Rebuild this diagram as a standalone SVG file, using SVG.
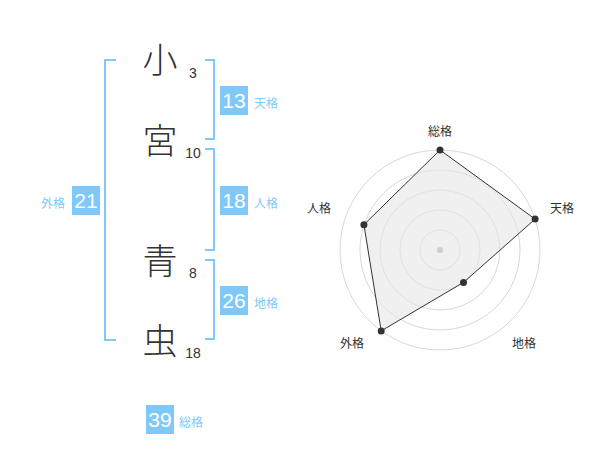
<svg xmlns="http://www.w3.org/2000/svg" width="600" height="470" viewBox="0 0 600 470">
<style>
.kanji{font-family:"Noto Sans CJK JP","Noto Sans CJK SC",sans-serif;font-size:35px;font-weight:300;fill:#333;text-anchor:middle}
.strokes{font-family:"Liberation Sans",Arial,sans-serif;font-size:14px;fill:#333;text-anchor:middle}
.br{fill:none;stroke:#80C8F8;stroke-width:2}
.box{fill:#80C8F8}
.num{font-family:"Liberation Sans",Arial,sans-serif;font-size:21px;fill:#fff;text-anchor:middle}
.lbl{font-family:"Noto Sans CJK JP","Noto Sans CJK SC",sans-serif;font-size:12px;fill:#80C8F8}
.ring{fill:none;stroke:#d8d8d8;stroke-width:1}
.axis{font-family:"Noto Sans CJK JP","Noto Sans CJK SC",sans-serif;font-size:12px;fill:#333;text-anchor:middle}
</style>
<rect width="600" height="470" fill="#fff"/>
<g id="name">
<g id="char1"><text class="kanji" x="160" y="73">小</text><text class="strokes" x="193" y="78">3</text></g>
<g id="char2"><text class="kanji" x="160" y="154">宮</text><text class="strokes" x="193" y="158">10</text></g>
<g id="char3"><text class="kanji" x="160" y="274">青</text><text class="strokes" x="193" y="278">8</text></g>
<g id="char4"><text class="kanji" x="160" y="354">虫</text><text class="strokes" x="193" y="358">18</text></g>
</g>
<g id="brackets">
<path class="br" d="M116,60 H105 V340 H116"/>
<path class="br" d="M205,60 H214 V139 H205"/>
<path class="br" d="M205,149 H214 V250 H205"/>
<path class="br" d="M205,260 H214 V339 H205"/>
</g>
<g id="tenkaku"><rect class="box" x="220" y="86" width="28" height="29"/><text class="num" x="234" y="108">13</text><text class="lbl" x="254" y="108">天格</text></g>
<g id="jinkaku"><rect class="box" x="220" y="186" width="28" height="29"/><text class="num" x="234" y="208">18</text><text class="lbl" x="254" y="208">人格</text></g>
<g id="chikaku"><rect class="box" x="220" y="286" width="28" height="29"/><text class="num" x="234" y="308">26</text><text class="lbl" x="254" y="308">地格</text></g>
<g id="gaikaku"><rect class="box" x="72" y="186" width="28" height="29"/><text class="num" x="86" y="208">21</text><text class="lbl" x="41" y="208">外格</text></g>
<g id="soukaku"><rect class="box" x="146" y="405" width="28" height="29"/><text class="num" x="160" y="427">39</text><text class="lbl" x="179" y="427">総格</text></g>
<g id="radar">
<circle class="ring" cx="440" cy="250" r="20"/>
<circle class="ring" cx="440" cy="250" r="40"/>
<circle class="ring" cx="440" cy="250" r="60"/>
<circle class="ring" cx="440" cy="250" r="80"/>
<circle class="ring" cx="440" cy="250" r="100"/>
<polygon points="440,150 535.1,219.1 463.5,282.4 381.2,330.9 363.9,224.7" fill="#e6e6e6" fill-opacity="0.6" stroke="#333" stroke-width="1"/>
<circle cx="440" cy="250" r="3" fill="#ccc"/>
<g fill="#333">
<circle cx="440" cy="150" r="3.5"/>
<circle cx="535.1" cy="219.1" r="3.5"/>
<circle cx="463.5" cy="282.4" r="3.5"/>
<circle cx="381.2" cy="330.9" r="3.5"/>
<circle cx="363.9" cy="224.7" r="3.5"/>
</g>
<text class="axis" x="440" y="136">総格</text>
<text class="axis" x="562" y="213">天格</text>
<text class="axis" x="524" y="348">地格</text>
<text class="axis" x="352" y="348">外格</text>
<text class="axis" x="319" y="213">人格</text>
</g>
</svg>
